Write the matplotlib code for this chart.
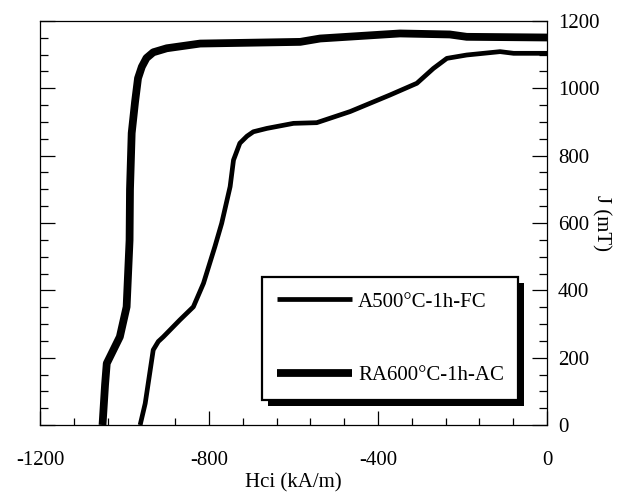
"""Demagnetisation curves J(H) for two heat treatments, redrawn from a scanned figure."""

import matplotlib

matplotlib.use("Agg")

import matplotlib.patheffects as pe  # noqa: E402
import matplotlib.pyplot as plt  # noqa: E402
from matplotlib.ticker import MultipleLocator  # noqa: E402

plt.rcParams["font.family"] = ["Liberation Serif", "DejaVu Serif"]
plt.rcParams["axes.unicode_minus"] = False

# A500°C-1h-FC (thin curve)
h_fc = [-963, -951, -932, -920, -908, -869, -837, -813, -786, -770, -750, -742,
        -727, -710, -695, -663, -600, -545, -466, -372, -308, -269, -237, -190,
        -111, -79, 0]
j_fc = [0, 64, 223, 248, 262, 312, 351, 421, 530, 599, 708, 787,
        837, 858, 871, 881, 896, 898, 931, 980, 1015, 1059, 1089, 1099,
        1109, 1104, 1104]

# RA600°C-1h-AC (thick curve)
h_ac = [-1052, -1046, -1042, -1011, -995, -988, -987, -983, -975, -968, -959,
        -948, -932, -900, -821, -584, -537, -348, -230, -190, 0]
j_ac = [0, 120, 183, 262, 351, 549, 700, 867, 960, 1030, 1064,
        1090, 1107, 1119, 1133, 1138, 1148, 1163, 1160, 1153, 1151]

LABELS = ["A500°C-1h-FC", "RA600°C-1h-AC"]
FS = 15

fig = plt.figure(figsize=(6.27, 4.95), dpi=100)
ax = fig.add_axes([40 / 627, 1 - 425 / 495, 507 / 627, 404 / 495])

ax.plot(h_fc, j_fc, color="black", lw=3.4, solid_capstyle="butt",
        solid_joinstyle="round", label=LABELS[0])
ax.plot(h_ac, j_ac, color="black", lw=5.6, solid_capstyle="butt",
        solid_joinstyle="round", label=LABELS[1])

ax.set_xlim(-1200, 0)
ax.set_ylim(0, 1200)
ax.xaxis.set_major_locator(MultipleLocator(400))
ax.xaxis.set_minor_locator(MultipleLocator(80))
ax.yaxis.set_major_locator(MultipleLocator(200))
ax.yaxis.set_minor_locator(MultipleLocator(50))

ax.tick_params(axis="both", which="both", direction="in", colors="black",
               labelsize=FS, width=0.9)
ax.tick_params(axis="x", which="major", length=10, pad=19)
ax.tick_params(axis="x", which="minor", length=5)
ax.tick_params(axis="y", which="both", left=True, right=True,
               labelleft=False, labelright=True)
ax.tick_params(axis="y", which="major", length=11, pad=8)
ax.tick_params(axis="y", which="minor", length=6)

for s in ax.spines.values():
    s.set_linewidth(0.9)

ax.set_xlabel("Hci (kA/m)", fontsize=FS, labelpad=2)
ax.yaxis.set_label_position("right")
ax.set_ylabel("J (mT)", fontsize=FS, rotation=-90, labelpad=8)

leg = ax.legend(loc="lower left", bbox_to_anchor=(0.438, 0.062, 0.505, 0.304),
                mode="expand", fontsize=FS, frameon=True, fancybox=False,
                framealpha=1, facecolor="white",
                handlelength=3.6, handletextpad=0.3, labelspacing=2.6,
                borderpad=0.7, borderaxespad=0)
frame = leg.get_frame()
frame.set_edgecolor("black")
frame.set_linewidth(1.6)
frame.set_path_effects([
    pe.SimplePatchShadow(offset=(4, -4), shadow_rgbFace="black", alpha=1),
    pe.Normal(),
])

fig.savefig("out.png", dpi=100)
